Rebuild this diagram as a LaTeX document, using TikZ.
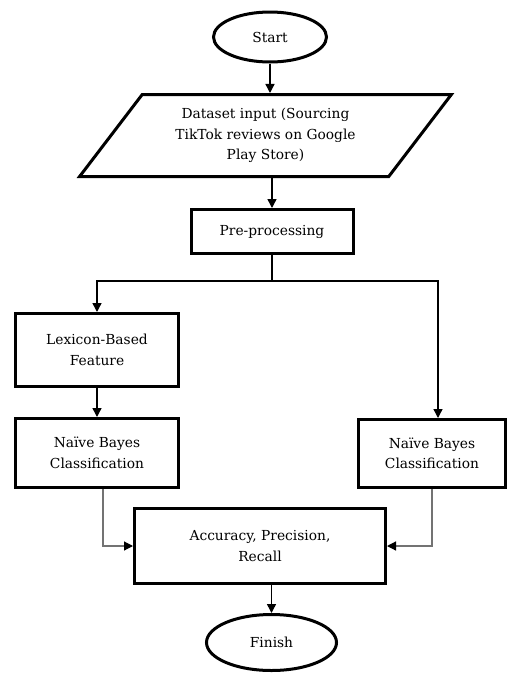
\documentclass[tikz,border=0pt]{standalone}
\usepackage{fontspec}
\setmainfont{DejaVu Serif}
\usetikzlibrary{shapes.geometric,arrows.meta}

\tikzset{
  terminal/.style={ellipse, draw, line width=3pt, inner sep=0pt},
  procbox/.style={rectangle, draw, line width=3pt, align=center, inner sep=0pt},
  iobox/.style={trapezium, trapezium left angle=50, trapezium right angle=130,
    trapezium stretches=true, draw, line width=3pt, align=center, inner sep=0pt},
  flow/.style={-{Triangle[length=9pt,width=9pt]}, line width=1.4pt},
  feed/.style={-{Triangle[length=9pt,width=9pt,color=black]}, line width=1.2pt, black!55}
}

\begin{document}
\begin{tikzpicture}[x=1pt, y=-1pt, font=\fontsize{13.8}{20.5}\selectfont]
      \useasboundingbox (0,0) rectangle (510,675);
      % nodes
      \node [terminal, minimum width=113, minimum height=50] (start) at (270,37) {Start};
      \node [iobox, minimum width=372, minimum height=82] (data) at (265.5,135.5)
            {Dataset input (Sourcing\\TikTok reviews on Google\\Play Store)};
      \node [procbox, minimum width=162, minimum height=44] (pre) at (272,231.5) {Pre-processing};
      \node [procbox, minimum width=163, minimum height=73] (lex) at (97,350) {Lexicon-Based\\Feature};
      \node [procbox, minimum width=163, minimum height=69] (nbl) at (97,453) {Naïve Bayes\\Classification};
      \node [procbox, minimum width=147, minimum height=68] (nbr) at (432,453.5) {Naïve Bayes\\Classification};
      \node [procbox, minimum width=251, minimum height=75] (acc) at (260,546) {Accuracy, Precision,\\Recall};
      \node [terminal, minimum width=130, minimum height=56] (finish) at (271.5,642.5) {Finish};
      \coordinate (fork) at (269,281);
      % connectors
      \draw [flow] (start.south) -- (start.south |- data.north);
      \draw [flow] (pre.north |- data.south) -- (pre.north);
      \draw [line width=1.4pt] (pre.south) -- (pre.south |- fork) -- (fork);
      \draw [flow] (fork) -| (lex.north);
      \draw [flow] (fork) -| ([xshift=6pt]nbr.north);
      \draw [flow] (lex.south) -- (nbl.north);
      \draw [feed] ([xshift=6pt]nbl.south) |- (acc.west);
      \draw [feed] (nbr.south) |- (acc.east);
      \draw [flow] (finish.north |- acc.south) -- (finish.north);
    \end{tikzpicture}
\end{document}
